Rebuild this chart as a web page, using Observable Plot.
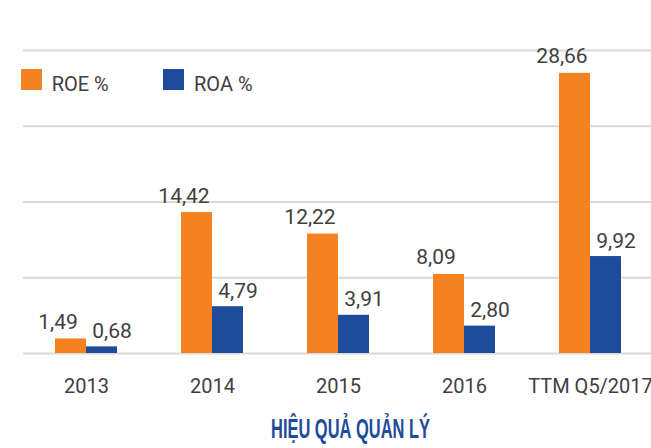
<!DOCTYPE html>
<html><head><meta charset="utf-8">
<script src="https://cdn.jsdelivr.net/npm/d3@7"></script>
<script src="https://cdn.jsdelivr.net/npm/@observablehq/plot@0.6"></script>
<style>
html,body{margin:0;padding:0;background:#fff;overflow:hidden}
#wrap{position:relative;width:651px;height:448px;font-family:Roboto,sans-serif;overflow:hidden}
.sw{position:absolute;width:21px;height:21px}
.lt{position:absolute;font-size:20px;line-height:21px;color:#404040;white-space:nowrap}
#title{position:absolute;left:271px;top:415px;font-family:"Liberation Sans Narrow","Liberation Sans",sans-serif;font-weight:bold;font-size:28px;line-height:28px;color:#1E4B9B;white-space:nowrap;transform-origin:0 0}
</style></head>
<body><div id="wrap"></div>
<script>
const categories = ["2013", "2014", "2015", "2016", "TTM Q5/2017"];
const series = ["ROE %", "ROA %"];
const roe = [1.49, 14.42, 12.22, 8.09, 28.66];
const roa = [0.68, 4.79, 3.91, 2.80, 9.92];
const gridValues = [0, 7.75, 15.5, 23.25, 31];
const colors = ["#F58220", "#1E4B9B"];
const titleText = "HIỆU QUẢ QUẢN LÝ";

const data = categories.flatMap((c, i) => [
  {cat: c, s: series[0], v: roe[i]},
  {cat: c, s: series[1], v: roa[i]}
]);
const fmt = v => v.toFixed(2).replace(".", ",");

const chart = Plot.plot({
  width: 651, height: 400,
  marginTop: 50, marginBottom: 47, marginLeft: 21, marginRight: -3.7,
  style: {fontFamily: "Roboto, sans-serif", fontSize: "20px", color: "#404040", background: "white", overflow: "hidden"},
  fx: {domain: categories, padding: 0, label: null},
  x: {domain: series, paddingInner: 0, paddingOuter: 1, axis: null},
  y: {domain: [0, 31], axis: null},
  color: {domain: series, range: colors},
  marks: [
    Plot.ruleY(gridValues, {stroke: "#d9d9d9", strokeWidth: 2}),
    Plot.barY(data, {fx: "cat", x: "s", y: "v", fill: "s", insetLeft: 0, insetRight: 0}),
    Plot.text(data.filter(d => d.s === series[0]), {fx: "cat", x: "s", y: "v", text: d => fmt(d.v), dx: -13, dy: -10, lineAnchor: "bottom", fontSize: 21, fill: "#404040"}),
    Plot.text(data.filter(d => d.s === series[1]), {fx: "cat", x: "s", y: "v", text: d => fmt(d.v), dx: 10, dy: -9, lineAnchor: "bottom", fontSize: 21, fill: "#404040"}),
    Plot.axisFx({anchor: "bottom", tickSize: 0, tickPadding: 25, fontSize: 20, fill: "#404040", label: null})
  ]
});
const wrap = document.getElementById("wrap");
wrap.appendChild(chart);

// legend
const legendX = [[21, 51.7], [162.7, 194]];
series.forEach((s, i) => {
  const sw = document.createElement("div");
  sw.className = "sw"; sw.style.left = legendX[i][0] + "px"; sw.style.top = "69px"; sw.style.background = colors[i];
  wrap.appendChild(sw);
  const t = document.createElement("div");
  t.className = "lt"; t.style.left = legendX[i][1] + "px"; t.style.top = "73.6px"; t.textContent = s;
  wrap.appendChild(t);
});

// title
const title = document.createElement("div");
title.id = "title"; title.textContent = titleText;
wrap.appendChild(title);
const w = title.getBoundingClientRect().width;
title.style.transform = `scaleX(${159 / w})`;
</script>
</body></html>
